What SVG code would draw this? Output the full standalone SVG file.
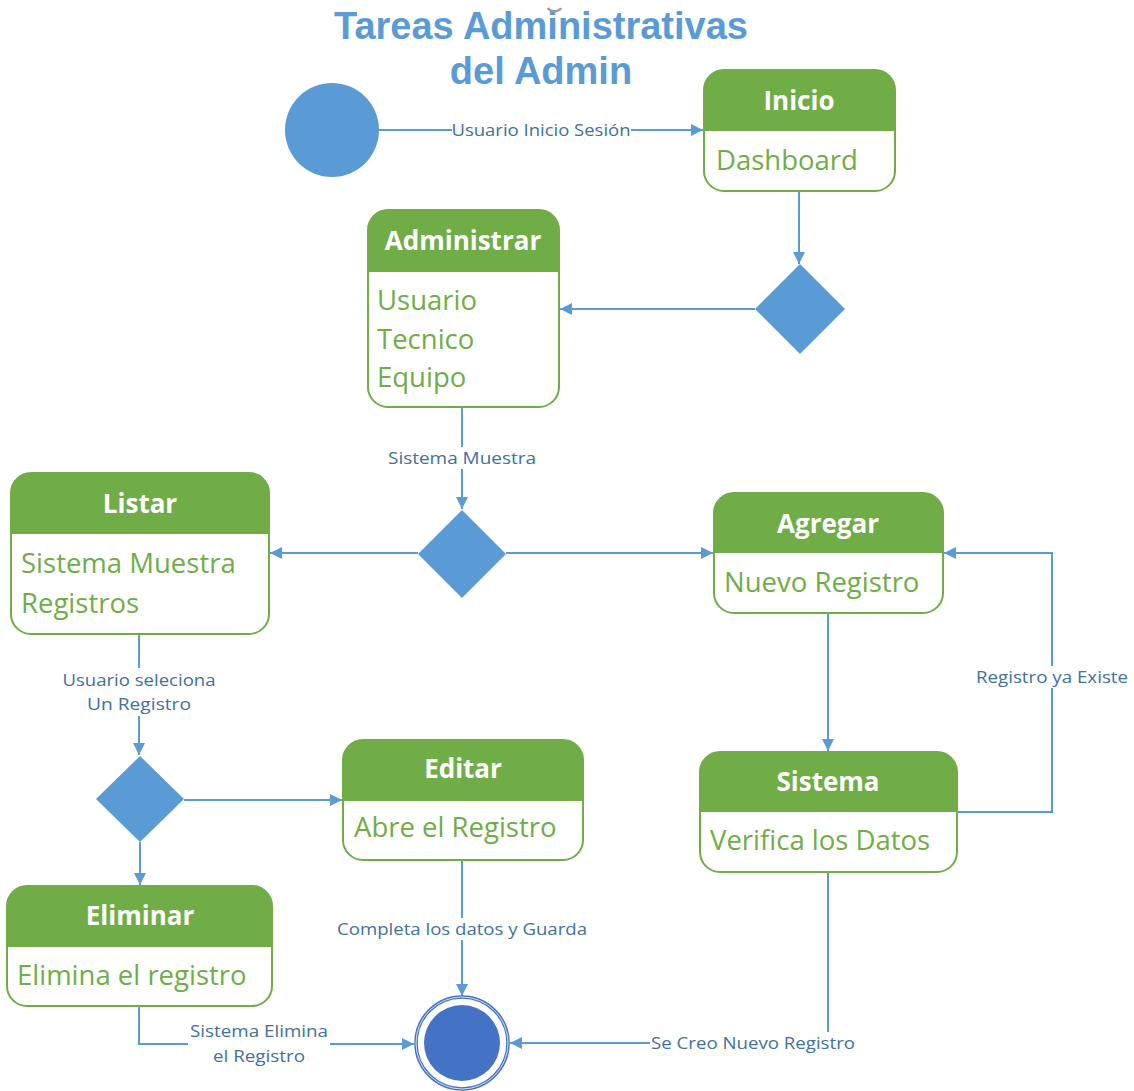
<svg xmlns="http://www.w3.org/2000/svg" width="1134" height="1091" viewBox="0 0 1134 1091">
  <defs>
    <marker id="arrow" viewBox="0 0 10 10" refX="10" refY="5" markerWidth="12" markerHeight="12" markerUnits="userSpaceOnUse" orient="auto">
      <path d="M0,0 L10,5 L0,10 z" fill="#5B9BD5"/>
    </marker>
    <style>
      .title { font-family: "Liberation Sans", Arial, sans-serif; font-weight: bold; font-size: 38px; fill: #5B9BD5; text-anchor: middle; }
      .box { fill: #ffffff; stroke: #70AD47; stroke-width: 2; }
      .head { fill: #70AD47; }
      .htxt { font-family: "Open Sans", "Noto Sans", sans-serif; font-weight: bold; font-size: 26px; fill: #ffffff; text-anchor: middle; }
      .btxt { font-family: "Open Sans", "Noto Sans", sans-serif; font-size: 27.5px; fill: #70AD47; }
      .edge { fill: none; stroke: #5B9BD5; stroke-width: 2; }
      .lbl { font-family: "Open Sans", "Noto Sans", sans-serif; font-size: 16.5px; fill: #41719C; text-anchor: middle; }
      .lblbg { fill: #ffffff; }
      .dec { fill: #5B9BD5; }
    </style>
  </defs>

  <!-- title -->
  <text class="title" x="541" y="39">Tareas Administrativas</text>
  <text class="title" x="541" y="84">del Admin</text>
  <path d="M548,8 A7,5 0 0 0 561,8" fill="none" stroke="#9a9a9a" stroke-width="2.5"/>

  <!-- connectors -->
  <g id="connectors">
    <path class="edge" d="M379,130 H703" marker-end="url(#arrow)"/>
    <path class="edge" d="M799,191 V264" marker-end="url(#arrow)"/>
    <path class="edge" d="M755,309 H560" marker-end="url(#arrow)"/>
    <path class="edge" d="M462,407 V509" marker-end="url(#arrow)"/>
    <path class="edge" d="M418,553 H270" marker-end="url(#arrow)"/>
    <path class="edge" d="M506,553 H713" marker-end="url(#arrow)"/>
    <path class="edge" d="M139,634 V755" marker-end="url(#arrow)"/>
    <path class="edge" d="M184,800 H342" marker-end="url(#arrow)"/>
    <path class="edge" d="M140,842 V885" marker-end="url(#arrow)"/>
    <path class="edge" d="M462,860 V996" marker-end="url(#arrow)"/>
    <path class="edge" d="M139,1006 V1044 H414" marker-end="url(#arrow)"/>
    <path class="edge" d="M828,613 V751" marker-end="url(#arrow)"/>
    <path class="edge" d="M957,812 H1052 V553 H944" marker-end="url(#arrow)"/>
    <path class="edge" d="M828,872 V1043 H510" marker-end="url(#arrow)"/>

    <!-- edge labels -->
    <rect class="lblbg" x="452" y="120" width="179" height="20"/>
    <text class="lbl" x="541" y="136" textLength="179" lengthAdjust="spacingAndGlyphs">Usuario Inicio Sesión</text>
    <rect class="lblbg" x="386" y="447" width="152" height="22"/>
    <text class="lbl" x="462" y="464" textLength="148" lengthAdjust="spacingAndGlyphs">Sistema Muestra</text>
    <rect class="lblbg" x="60" y="668" width="158" height="48"/>
    <text class="lbl" x="139" y="686" textLength="153" lengthAdjust="spacingAndGlyphs">Usuario seleciona</text>
    <text class="lbl" x="139" y="710" textLength="104" lengthAdjust="spacingAndGlyphs">Un Registro</text>
    <rect class="lblbg" x="335" y="918" width="254" height="22"/>
    <text class="lbl" x="462" y="935" textLength="250" lengthAdjust="spacingAndGlyphs">Completa los datos y Guarda</text>
    <rect class="lblbg" x="188" y="1019" width="142" height="48"/>
    <text class="lbl" x="259" y="1037" textLength="138" lengthAdjust="spacingAndGlyphs">Sistema Elimina</text>
    <text class="lbl" x="259" y="1062" textLength="92" lengthAdjust="spacingAndGlyphs">el Registro</text>
    <rect class="lblbg" x="974" y="666" width="156" height="22"/>
    <text class="lbl" x="1052" y="683" textLength="152" lengthAdjust="spacingAndGlyphs">Registro ya Existe</text>
    <rect class="lblbg" x="650" y="1032" width="206" height="22"/>
    <text class="lbl" x="753" y="1049" textLength="204" lengthAdjust="spacingAndGlyphs">Se Creo Nuevo Registro</text>
  </g>

  <!-- start -->
  <g id="start">
    <circle cx="332" cy="130" r="47" fill="#5B9BD5"/>
  </g>

  <!-- Inicio -->
  <g id="inicio">
    <rect class="box" x="704" y="70" width="191" height="121" rx="20"/>
    <path class="head" d="M704,131 V90 A20,20 0 0 1 724,70 H875 A20,20 0 0 1 895,90 V131 Z"/>
    <text class="htxt" x="799" y="110">Inicio</text>
    <text class="btxt" x="716" y="170">Dashboard</text>
  </g>

  <!-- decision 1 -->
  <g id="decision1">
    <path class="dec" d="M800,264 L845,309 L800,354 L755,309 Z"/>
  </g>

  <!-- Administrar -->
  <g id="administrar">
    <rect class="box" x="368" y="210" width="191" height="197" rx="20"/>
    <path class="head" d="M368,272 V230 A20,20 0 0 1 388,210 H539 A20,20 0 0 1 559,230 V272 Z"/>
    <text class="htxt" x="463" y="250">Administrar</text>
    <text class="btxt" x="377" y="310">Usuario</text>
    <text class="btxt" x="377" y="349">Tecnico</text>
    <text class="btxt" x="377" y="387">Equipo</text>
  </g>

  <!-- decision 2 -->
  <g id="decision2">
    <path class="dec" d="M462,510 L506,554 L462,598 L418,554 Z"/>
  </g>

  <!-- Listar -->
  <g id="listar">
    <rect class="box" x="11" y="473" width="258" height="161" rx="20"/>
    <path class="head" d="M11,534 V493 A20,20 0 0 1 31,473 H249 A20,20 0 0 1 269,493 V534 Z"/>
    <text class="htxt" x="140" y="513">Listar</text>
    <text class="btxt" x="21" y="573">Sistema Muestra</text>
    <text class="btxt" x="21" y="613">Registros</text>
  </g>

  <!-- Agregar -->
  <g id="agregar">
    <rect class="box" x="714" y="493" width="229" height="120" rx="20"/>
    <path class="head" d="M714,553 V513 A20,20 0 0 1 734,493 H923 A20,20 0 0 1 943,513 V553 Z"/>
    <text class="htxt" x="828" y="533">Agregar</text>
    <text class="btxt" x="724" y="592">Nuevo Registro</text>
  </g>

  <!-- decision 3 -->
  <g id="decision3">
    <path class="dec" d="M140,756 L184,799 L140,842 L96,799 Z"/>
  </g>

  <!-- Editar -->
  <g id="editar">
    <rect class="box" x="343" y="740" width="240" height="120" rx="20"/>
    <path class="head" d="M343,801 V760 A20,20 0 0 1 363,740 H563 A20,20 0 0 1 583,760 V801 Z"/>
    <text class="htxt" x="463" y="778">Editar</text>
    <text class="btxt" x="354" y="837">Abre el Registro</text>
  </g>

  <!-- Sistema -->
  <g id="sistema">
    <rect class="box" x="700" y="752" width="257" height="120" rx="20"/>
    <path class="head" d="M700,812 V772 A20,20 0 0 1 720,752 H937 A20,20 0 0 1 957,772 V812 Z"/>
    <text class="htxt" x="828" y="791">Sistema</text>
    <text class="btxt" x="710" y="850">Verifica los Datos</text>
  </g>

  <!-- Eliminar -->
  <g id="eliminar">
    <rect class="box" x="7" y="886" width="265" height="120" rx="20"/>
    <path class="head" d="M7,947 V906 A20,20 0 0 1 27,886 H252 A20,20 0 0 1 272,906 V947 Z"/>
    <text class="htxt" x="140" y="925">Eliminar</text>
    <text class="btxt" x="17" y="985">Elimina el registro</text>
  </g>

  <!-- end -->
  <g id="end">
    <circle cx="462" cy="1043" r="46" fill="#ffffff" stroke="#4472C4" stroke-width="3.5"/>
    <circle cx="462" cy="1043" r="46" fill="none" stroke="#D5E0F2" stroke-width="1"/>
    <circle cx="462" cy="1043" r="38" fill="#4472C4"/>
  </g>
</svg>
